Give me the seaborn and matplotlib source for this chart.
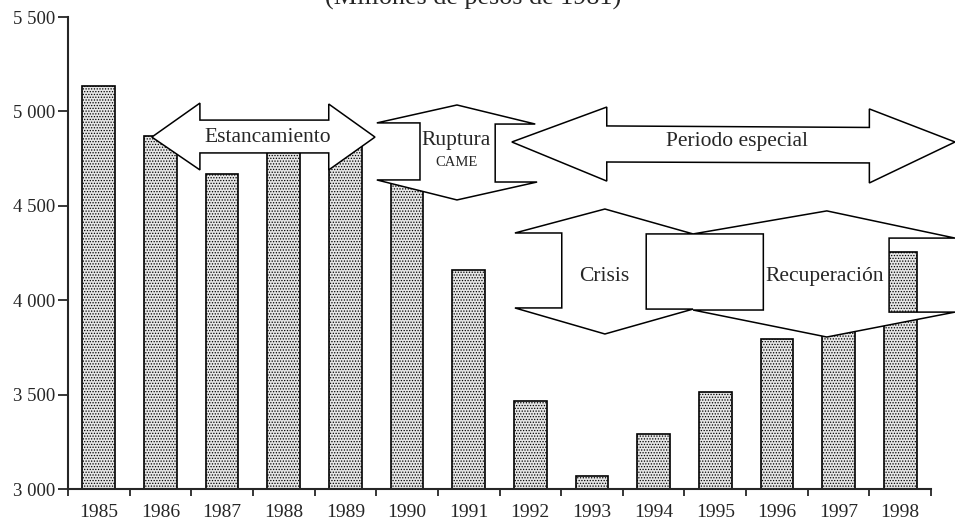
import matplotlib
matplotlib.use("Agg")
import matplotlib.pyplot as plt
from matplotlib.patches import Polygon
import seaborn as sns

# --- data ---
years = [str(y) for y in range(1985, 1999)]
values = [5135, 4870, 4668, 4840, 4870, 4625, 4160, 3466, 3070, 3291, 3514, 3794, 3950, 4255]
y_ticks = [3000, 3500, 4000, 4500, 5000, 5500]
y_tick_labels = ["3 000", "3 500", "4 000", "4 500", "5 000", "5 500"]
title_text = "(Millones de pesos de 1981)"

# annotation block arrows (data units: x = category index, y = value)
estancamiento = [(0.86, 4864), (1.64, 5044), (1.64, 4954), (3.73, 4954), (3.73, 5039),
                 (4.48, 4864), (3.73, 4690), (3.73, 4780), (1.64, 4780), (1.64, 4690)]
periodo = [(6.70, 4838), (8.24, 5023), (8.24, 4923), (12.50, 4915), (12.50, 5013),
           (13.89, 4838), (12.50, 4621), (12.50, 4727), (8.24, 4732), (8.24, 4631)]
ruptura = [(5.81, 5034), (7.08, 4933), (6.43, 4933), (6.43, 4626), (7.11, 4626),
           (5.81, 4531), (4.51, 4637), (5.21, 4637), (5.21, 4939), (4.51, 4939)]
crisis = [(8.21, 4483), (9.64, 4351), (8.88, 4351), (8.88, 3953), (9.64, 3953),
          (8.21, 3821), (6.75, 3959), (7.51, 3959), (7.51, 4356), (6.75, 4356)]
recuperacion = [(11.81, 4473), (13.89, 4329), (12.82, 4329), (12.82, 3937), (13.89, 3937),
                (11.81, 3805), (9.64, 3948), (10.78, 3948), (10.78, 4351), (9.64, 4351)]

sns.set_style("ticks")
plt.rcParams["font.family"] = ["Liberation Serif", "DejaVu Serif"]
plt.rcParams["hatch.color"] = "#a4a4a4"
plt.rcParams["hatch.linewidth"] = 0.6

fig = plt.figure(figsize=(9.55, 5.27), dpi=100)
ax = fig.add_axes([68 / 955, 38 / 527, 863 / 955, 472 / 527])

sns.barplot(x=years, y=values, color="#e6e6e6", width=0.53, saturation=1,
            edgecolor="black", linewidth=1.2, ax=ax)
for bar in ax.patches:
    bar.set_hatch("......")

ax.set_ylim(3000, 5500)
ax.set_xlim(-0.5, 13.5)
ax.set_yticks(y_ticks)
ax.set_yticklabels(y_tick_labels, fontsize=13.5)
ax.set_xticks(range(len(years)))
ax.set_xticklabels(years, fontsize=14)
ax.set_xticks([i - 0.5 for i in range(len(years) + 1)], minor=True)
ax.tick_params(axis="x", which="major", length=0, pad=11)
ax.tick_params(axis="x", which="minor", length=5, width=1.3, direction="out")
ax.tick_params(axis="y", length=7, width=1.3, pad=2)
ax.set_xlabel("")
ax.set_ylabel("")
sns.despine(ax=ax)
for side in ["left", "bottom"]:
    ax.spines[side].set_linewidth(1.5)

# block arrows drawn over the bars
for pts in [estancamiento, periodo, ruptura, crisis, recuperacion]:
    ax.add_patch(Polygon(pts, closed=True, facecolor="white", edgecolor="black",
                         linewidth=1.1, zorder=5, clip_on=False))

label_size = 15.5
ax.text(2.745, 4864, "Estancamiento", fontsize=label_size, ha="center", va="center", zorder=6)
ax.text(5.80, 4848, "Ruptura", fontsize=label_size, ha="center", va="center", zorder=6)
ax.text(5.80, 4727, "CAME", fontsize=10.5, ha="center", va="center", zorder=6)
ax.text(10.35, 4838, "Periodo especial", fontsize=label_size, ha="center", va="center", zorder=6)
ax.text(8.20, 4123, "Crisis", fontsize=label_size, ha="center", va="center", zorder=6)
ax.text(11.78, 4123, "Recuperación", fontsize=label_size, ha="center", va="center", zorder=6)

fig.text(473 / 955, 1 - 5 / 527, title_text, fontsize=18.8, ha="center", va="baseline")

fig.savefig("out.png", dpi=100)
